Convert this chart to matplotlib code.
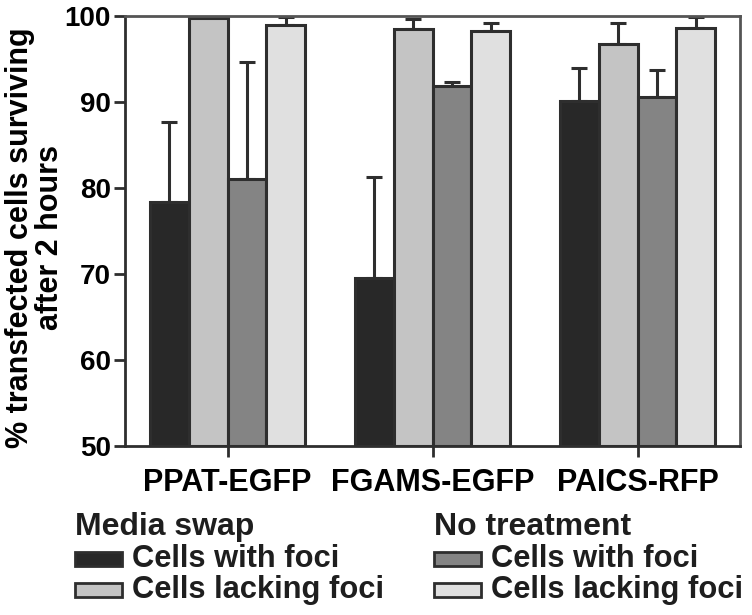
import numpy as np
import matplotlib
matplotlib.use('Agg')
import matplotlib.pyplot as plt
from matplotlib.patches import Rectangle

plt.rcParams['font.family'] = ['Liberation Sans', 'DejaVu Sans']
plt.rcParams['font.weight'] = 'bold'

# data
constructs = ['PPAT-EGFP', 'FGAMS-EGFP', 'PAICS-RFP']
swap_foci = [78.4, 69.5, 90.1]
swap_foci_err = [9.3, 11.8, 3.9]
swap_nofoci = [99.8, 98.5, 96.7]
swap_nofoci_err = [0.5, 1.1, 2.5]
none_foci = [81.0, 91.9, 90.6]
none_foci_err = [13.7, 0.4, 3.1]
none_nofoci = [98.9, 98.3, 98.6]
none_nofoci_err = [1.0, 0.9, 1.3]

group_titles = ['Media swap', 'No treatment']
series_labels = ['Cells with foci', 'Cells lacking foci']
colors = ['#282828', '#c4c4c4', '#848484', '#e0e0e0']

series = [
    (swap_foci, swap_foci_err),
    (swap_nofoci, swap_nofoci_err),
    (none_foci, none_foci_err),
    (none_nofoci, none_nofoci_err),
]

W, H = 752, 615
edge = '#2e2e2e'
fig = plt.figure(figsize=(W / 100, H / 100), dpi=100)
ax = fig.add_axes([125 / W, 1 - 446 / H, 615 / W, 430 / H])

x = np.arange(len(constructs))
w = 0.19
offsets = (np.arange(4) - 1.5) * w
for (vals, errs), col, off in zip(series, colors, offsets):
    ax.errorbar(x + off, vals, yerr=[np.zeros(len(errs)), errs], fmt='none',
                ecolor=edge, elinewidth=2.2, capsize=5.5, capthick=2.2, zorder=1)
    ax.bar(x + off, np.array(vals) - 50, width=w, bottom=50, color=col,
           edgecolor=edge, linewidth=2.2, zorder=2)

ax.set_xlim(-0.5, 2.5)
ax.set_ylim(50, 100)
ax.set_yticks([50, 60, 70, 80, 90, 100])
ax.set_xticks(x)
ax.set_xticklabels(constructs, fontsize=22)
ax.tick_params(axis='both', width=2, color=edge, length=8)
ax.tick_params(axis='y', labelsize=20, pad=2)
ax.tick_params(axis='x', pad=8)
for sp in ax.spines.values():
    sp.set_color(edge)
    sp.set_linewidth(2)
ax.spines['top'].set_color('#555555')
ax.spines['right'].set_color('#555555')

ax.set_ylabel('% transfected cells surviving\nafter 2 hours', fontsize=22,
              fontweight='bold', linespacing=1.0)
ax.yaxis.set_label_coords(-0.098, 0.484)

# legend drawn by hand: two columns, each with a title and two boxes
col_x = [75, 434]
for ci, title in enumerate(group_titles):
    x0 = col_x[ci]
    fig.text(x0 / W, 1 - 535 / H, title, fontsize=23, fontweight='bold',
             color='#1e1e1e', va='baseline', ha='left')
    for ri, lab in enumerate(series_labels):
        top = 552 + ri * 31
        fig.patches.append(Rectangle((x0 / W, 1 - (top + 14) / H), 47 / W, 14 / H,
                                     transform=fig.transFigure, facecolor=colors[ci * 2 + ri],
                                     edgecolor=edge, linewidth=2.0))
        fig.text((x0 + 57) / W, 1 - (567 + ri * 31) / H, lab, fontsize=22.2,
                 fontweight='bold', color='#1e1e1e', va='baseline', ha='left')

fig.savefig('out.png', dpi=100)
